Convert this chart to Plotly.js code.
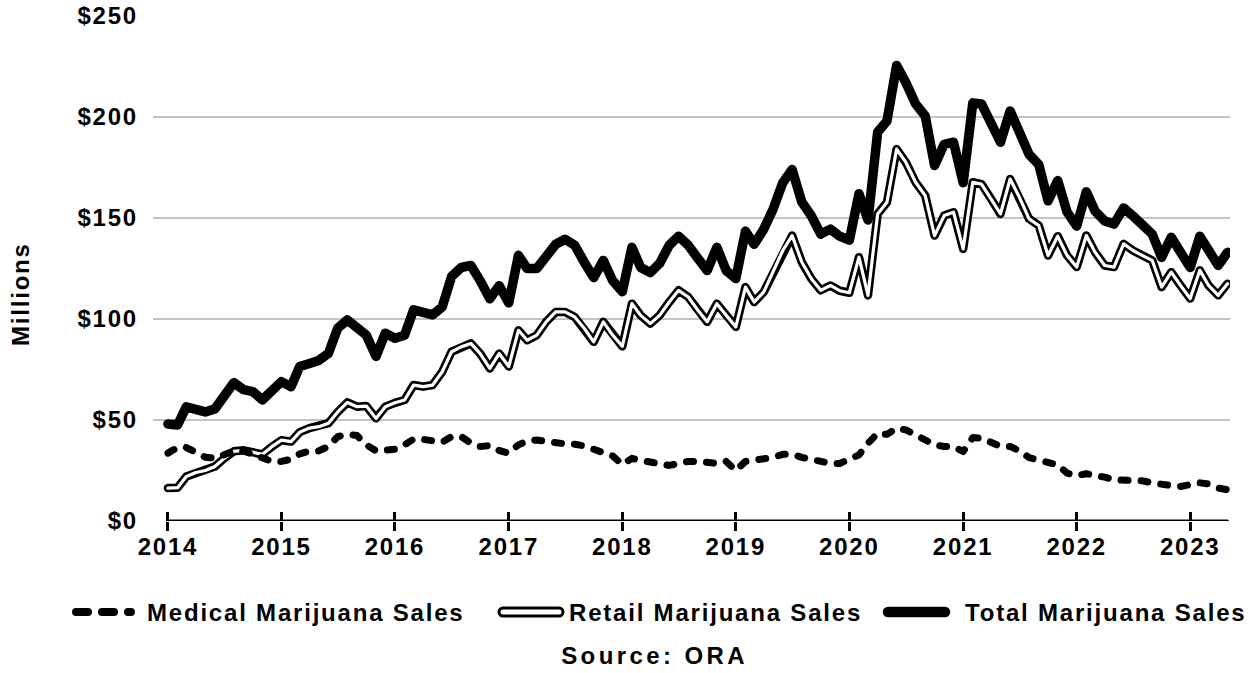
<!DOCTYPE html>
<html>
<head>
<meta charset="utf-8">
<script src="https://cdn.plot.ly/plotly-3.0.1.min.js"></script>
<style>
  html, body { margin: 0; padding: 0; background: #fff; }
  #chart { width: 1255px; height: 673px; }
  svg text { letter-spacing: 1.8px; }
  g.annotation[data-index="4"] text { letter-spacing: 3.4px; }
  path.js-line, .shapelayer path { stroke-linecap: round !important; stroke-linejoin: round !important; }
</style>
</head>
<body>
<div id="chart"></div>
<script>
// ---- data (monthly, Jan 2014 .. May 2023), $ millions ----
const startYear = 2014;
const yearLabels = ['2014','2015','2016','2017','2018','2019','2020','2021','2022','2023'];

const totalSales = [
  48, 47.5, 56.5, 55, 54, 55.5, 62, 68.5, 65, 64, 60, 64,
  69, 66.5, 76.5, 78, 79.5, 83, 95.5, 99.5, 95.5, 92, 81.5, 93,
  90.5, 92, 104.5, 103.5, 102, 106, 121, 125.5, 126.5, 119, 110, 116.5,
  108, 131.5, 125, 125, 131.5, 137, 139.5, 136.5, 128, 120.5, 129, 119,
  113.5, 135.5, 125.5, 123, 127.5, 136.5, 141, 136.5, 130, 124, 135.5, 124,
  120, 143.5, 137, 144.5, 154.5, 167.5, 174, 158, 151, 142, 144.5, 141,
  139, 162, 149, 192.5, 198, 225.5, 217, 206.5, 200.5, 176, 186.5, 187.5,
  167.5, 207, 206.5, 196.5, 187.5, 203, 193, 181.5, 176.5, 158.5, 168.5, 153,
  146, 163, 153.5, 148.5, 147, 155, 151, 147, 142, 130.5, 140.5, 133,
  125.5, 141, 134, 126.5, 133
];

const retailSales = [
  16.3, 16.5, 22, 24, 25, 27, 31, 34.5, 35, 34, 33, 36.8,
  40, 39.3, 44, 46, 46.7, 48.4, 54, 58.7, 56.6, 56.9, 50.8, 56.6,
  58.5, 59.9, 67.3, 66.5, 67.3, 73.9, 83.8, 86.2, 87.9, 82.9, 75.5, 82.9,
  76.5, 94.4, 89.5, 92, 98.6, 103.5, 103.5, 101, 95.3, 88.7, 98.6, 92,
  86.5, 107.6, 101.8, 97.7, 101.8, 108.4, 114.2, 110.9, 104.3, 98.6, 107.6, 101.8,
  96.1, 115.8, 108.4, 113.4, 123.2, 133.9, 141.3, 128.2, 119.9, 114.2, 116.6, 114,
  113, 130.6, 111.7, 152, 157.8, 184.1, 177.5, 167.7, 161.1, 141.3, 151.2, 152.9,
  134.7, 167.7, 166.8, 159.4, 152, 169.3, 160.2, 149.6, 146.3, 131.4, 141, 131.5,
  125.7, 141.3, 133.1, 126.5, 125.7, 137.2, 133.9, 131.4, 129, 115.8, 123.2, 116.6,
  110.1, 124.1, 116.6, 111.7, 117.5
];

const medicalSales = [
  33.6, 36.4, 36.4, 33.6, 31.6, 31.1, 32.7, 34.7, 34.7, 32.7, 30.6, 29.5,
  29.5, 30.6, 33.2, 34.7, 34.7, 36.9, 41.8, 42.9, 42.3, 37.7, 34.7, 34.7,
  35.5, 37.7, 40.6, 40.4, 39.4, 39, 41.8, 41.8, 38.5, 36.9, 37.3, 34.9,
  33.6, 37.7, 39.6, 40.1, 39.4, 38.5, 38.2, 38, 37.2, 35.5, 34.2, 32.2,
  28, 31, 30, 29, 28, 27.5, 28.5, 29.5, 29.5, 29, 28.5, 29.5,
  25, 29.5, 30, 30.5, 31.5, 33, 33, 31.5, 30.5, 29.5, 28.5, 28.5,
  30.3, 32.7, 38.5, 43.4, 42.9, 45.9, 45.1, 42.6, 39.3, 37.7, 36.9, 36.9,
  34.4, 41.3, 41, 38.5, 36.9, 36.9, 34.7, 31.4, 30.3, 29.5, 27.8, 23.7,
  22.5, 23.4, 22.9, 21.7, 20.4, 20.1, 20.4, 19.9, 18.8, 17.9, 17.6, 17.1,
  18.3, 18.9, 18.3, 16.3, 15.5
];

const seriesNames = ['Medical Marijuana Sales', 'Retail Marijuana Sales', 'Total Marijuana Sales'];
const sourceText = 'Source: ORA';
const yTitle = 'Millions';

// month categories
const months = totalSales.map((_, i) => {
  const y = startYear + Math.floor(i / 12);
  const m = (i % 12) + 1;
  return y + '-' + String(m).padStart(2, '0') + '-01';
});
const yearTicks = yearLabels.map(y => y + '-01-01');

// ---- styling ----
const FONT = "'Liberation Sans', Arial, sans-serif";
const fnt = { family: FONT, size: 24, color: '#000', weight: 700 };

// pixel -> paper helpers for decorations (legend, titles)
const L = 153, R = 25, T = 16, B = 152, W = 1255, H = 673;
const pw = W - L - R, ph = H - T - B;
const px = v => (v - L) / pw;
const py = v => (H - B - v) / ph;

const traces = [
  { x: months, y: retailSales, type: 'scatter', mode: 'lines', name: seriesNames[1],
    line: { color: '#000', width: 8.5 }, showlegend: false, hoverinfo: 'skip' },
  { x: months, y: retailSales, type: 'scatter', mode: 'lines', name: seriesNames[1] + ' inner',
    line: { color: '#fff', width: 3.2 }, showlegend: false, hoverinfo: 'skip' },
  { x: months, y: medicalSales, type: 'scatter', mode: 'lines', name: seriesNames[0],
    line: { color: '#000', width: 7, dash: '7px,13px' }, showlegend: false },
  { x: months, y: totalSales, type: 'scatter', mode: 'lines', name: seriesNames[2],
    line: { color: '#000', width: 9.5 }, showlegend: false },
  { x: [], y: [], xaxis: 'x2', type: 'scatter', showlegend: false }
];

const xr = ['2013-11-14', '2023-05-09'];

const legY = 612;
const layout = {
  width: W, height: H,
  margin: { l: L, r: R, t: T, b: B, pad: 0 },
  paper_bgcolor: '#fff', plot_bgcolor: '#fff',
  showlegend: false,
  font: fnt,
  xaxis: {
    type: 'date', range: xr,
    tickmode: 'array', tickvals: yearTicks, ticktext: yearLabels,
    ticks: 'outside', ticklen: 9, tickwidth: 3, tickcolor: '#000',
    showgrid: false, showline: false, zeroline: false,
    tickfont: fnt, ticklabelstandoff: -5
  },
  xaxis2: {
    type: 'date', range: xr, overlaying: 'x', anchor: 'y', side: 'bottom',
    tickmode: 'array', tickvals: yearTicks,
    ticks: 'inside', ticklen: 9, tickwidth: 3, tickcolor: '#000',
    showticklabels: false, showgrid: false, showline: false, zeroline: false
  },
  yaxis: {
    range: [0, 250], tickmode: 'linear', tick0: 0, dtick: 50,
    tickprefix: '$', showgrid: true, gridcolor: '#c4c4c4', gridwidth: 1.3,
    zeroline: true, zerolinecolor: '#fff', zerolinewidth: 2,
    showline: false, ticks: '', tickfont: fnt, ticklabelstandoff: 14
  },
  shapes: [
    // x-axis baseline across the data span
    { type: 'line', xref: 'x', yref: 'y', x0: months[0], x1: months[months.length - 1], y0: 0, y1: 0,
      line: { color: '#000', width: 3 }, layer: 'above' },
    // legend symbols
    { type: 'line', xref: 'paper', yref: 'paper', x0: px(76), x1: px(131), y0: py(legY), y1: py(legY),
      line: { color: '#000', width: 8, dash: '12px,14px' } },
    { type: 'line', xref: 'paper', yref: 'paper', x0: px(503), x1: px(559), y0: py(legY), y1: py(legY),
      line: { color: '#000', width: 11 } },
    { type: 'line', xref: 'paper', yref: 'paper', x0: px(503), x1: px(559), y0: py(legY), y1: py(legY),
      line: { color: '#fff', width: 5 } },
    { type: 'line', xref: 'paper', yref: 'paper', x0: px(888), x1: px(945), y0: py(legY), y1: py(legY),
      line: { color: '#000', width: 10.5 } }
  ],
  annotations: [
    { text: yTitle, xref: 'paper', yref: 'paper', x: px(20), y: py(294), textangle: -90,
      showarrow: false, font: fnt, xanchor: 'center', yanchor: 'middle' },
    { text: seriesNames[0], xref: 'paper', yref: 'paper', x: px(145), y: py(legY),
      showarrow: false, font: fnt, xanchor: 'left', yanchor: 'middle' },
    { text: seriesNames[1], xref: 'paper', yref: 'paper', x: px(567), y: py(legY),
      showarrow: false, font: fnt, xanchor: 'left', yanchor: 'middle' },
    { text: seriesNames[2], xref: 'paper', yref: 'paper', x: px(963), y: py(legY),
      showarrow: false, font: fnt, xanchor: 'left', yanchor: 'middle' },
    { text: sourceText, xref: 'paper', yref: 'paper', x: px(654), y: py(655),
      showarrow: false, font: fnt, xanchor: 'center', yanchor: 'middle' }
  ]
};

Plotly.newPlot('chart', traces, layout, { staticPlot: true, displayModeBar: false });
</script>
</body>
</html>
